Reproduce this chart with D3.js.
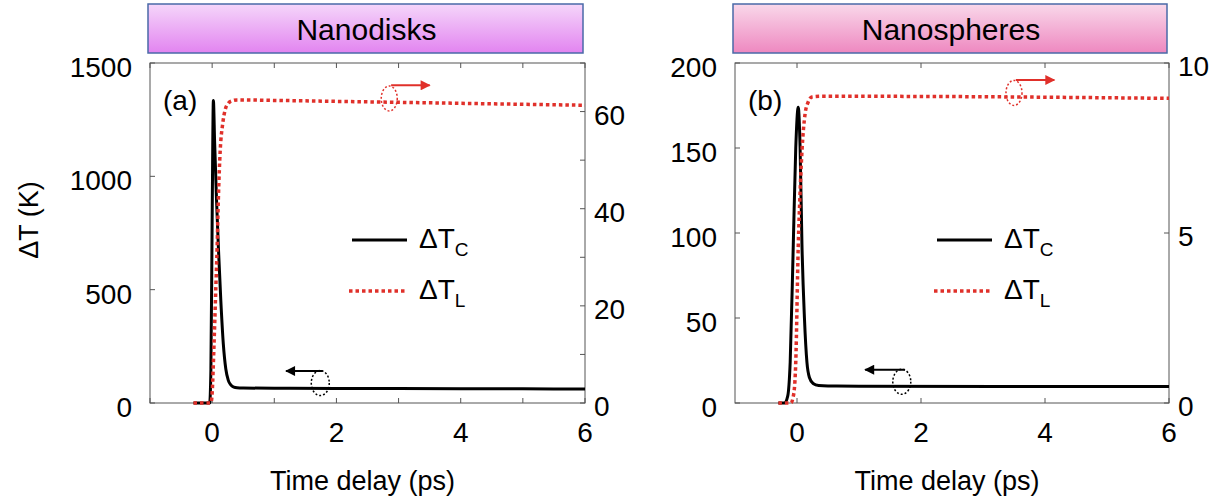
<!DOCTYPE html>
<html>
<head>
<meta charset="utf-8">
<script src="https://cdn.jsdelivr.net/npm/d3@7"></script>
<style>
  body { margin: 0; background: #fff; }
  text { font-family: "Liberation Sans", Arial, sans-serif; fill: #000; }
</style>
</head>
<body>
<script>
// values
const timeA = [-0.3, -0.04, -0.02, 0, 0.02, 0.04, 0.07, 0.1, 0.14, 0.18, 0.22, 0.26, 0.3, 0.35, 0.4, 0.5, 1, 2, 3, 4, 5, 6];
const tcA   = [0, 0, 150, 800, 1335, 1150, 900, 690, 450, 260, 150, 100, 80, 70, 67, 66, 65, 64, 63.5, 63, 62.5, 62];
const timeLA = [-0.3, -0.02, 0, 0.03, 0.06, 0.08, 0.1, 0.13, 0.17, 0.21, 0.26, 0.32, 0.4, 1, 2, 3, 4, 5, 6];
const tlA    = [0, 0, 2, 12, 24, 32, 42, 52, 57.5, 60.4, 61.7, 62.2, 62.4, 62.3, 62.1, 61.9, 61.7, 61.5, 61.3];

const timeB = [-0.3, -0.2, -0.15, -0.11, -0.06, -0.02, 0.02, 0.05, 0.08, 0.12, 0.16, 0.2, 0.26, 0.35, 0.5, 1, 6];
const tcB   = [0, 0, 4, 24, 93, 150, 174, 150, 93, 50, 24, 15, 11.5, 10.3, 10, 9.9, 9.7];
const timeLB = [-0.3, -0.1, -0.05, -0.02, 0.02, 0.05, 0.08, 0.13, 0.18, 0.24, 0.4, 1, 6];
const tlB    = [0, 0, 0.3, 1.2, 4.6, 6.2, 7.4, 8.5, 8.85, 9.0, 9.02, 9.02, 8.96];

const titles = ["Nanodisks", "Nanospheres"];
const panelTags = ["(a)", "(b)"];
const leftTicksA = [0, 500, 1000, 1500];
const rightTicksA = [0, 10, 20, 30, 40, 50, 60, 70];
const rightLabelsA = [0, 20, 40, 60];
const leftTicksB = [0, 50, 100, 150, 200];
const rightTicksB = [0, 5, 10];
const xTicksA = [-1, 0, 1, 2, 3, 4, 5, 6];
const xTicksB = [0, 2, 4, 6];
const xLabels = [0, 2, 4, 6];

const width = 1231, height = 500;
const red = "#e0302a";

const svg = d3.select("body").append("svg")
    .attr("width", width)
    .attr("height", height);

const defs = svg.append("defs");
[["gradA", "#f5d6fa", "#e284f0"], ["gradB", "#f9d8ea", "#ee88c0"]].forEach(([id, c0, c1]) => {
  const g = defs.append("linearGradient").attr("id", id)
      .attr("x1", 0).attr("y1", 0).attr("x2", 0).attr("y2", 1);
  g.append("stop").attr("offset", "0%").attr("stop-color", c0);
  g.append("stop").attr("offset", "100%").attr("stop-color", c1);
});
[["arrowRed", red], ["arrowBlack", "#000"]].forEach(([id, c]) => {
  defs.append("marker").attr("id", id)
      .attr("viewBox", "0 0 10 10").attr("refX", 9).attr("refY", 5)
      .attr("markerWidth", 11).attr("markerHeight", 10)
      .attr("markerUnits", "userSpaceOnUse")
      .attr("orient", "auto")
    .append("path").attr("d", "M0,0L10,5L0,10Z").attr("fill", c);
});

const panels = [
  {
    left: 150, right: 585, grad: "gradA",
    title: titles[0], tag: panelTags[0],
    yl: [0, 1500], yr: [0, 70],
    lTicks: leftTicksA, rTicks: rightTicksA, rLabels: rightLabelsA, xTicks: xTicksA,
    tc: timeA.map((t, i) => [t, tcA[i]]),
    tl: timeLA.map((t, i) => [t, tlA[i]]),
    redNote: {cx: 2.85, cy: 62.7, ax0: 2.88, ax1: 3.5, ay: 65.4},
    blackNote: {cx: 1.74, cy: 88, ax0: 1.78, ax1: 1.19, ay: 141},
    ylabel: true
  },
  {
    left: 735, right: 1169, grad: "gradB",
    title: titles[1], tag: panelTags[1],
    yl: [0, 200], yr: [0, 10],
    lTicks: leftTicksB, rTicks: rightTicksB, rLabels: rightTicksB, xTicks: xTicksB,
    tc: timeB.map((t, i) => [t, tcB[i]]),
    tl: timeLB.map((t, i) => [t, tlB[i]]),
    redNote: {cx: 3.5, cy: 9.12, ax0: 3.53, ax1: 4.15, ay: 9.5},
    blackNote: {cx: 1.69, cy: 12.5, ax0: 1.74, ax1: 1.1, ay: 19.6},
    ylabel: false
  }
];

const plotTop = 63, plotBottom = 403;

panels.forEach(p => {
  const x = d3.scaleLinear().domain([-1, 6]).range([p.left, p.right]);
  const yL = d3.scaleLinear().domain(p.yl).range([plotBottom, plotTop]);
  const yR = d3.scaleLinear().domain(p.yr).range([plotBottom, plotTop]);
  const g = svg.append("g");

  // title box
  g.append("rect")
      .attr("x", p.left - 2).attr("y", 4)
      .attr("width", p.right - p.left).attr("height", 49)
      .attr("fill", `url(#${p.grad})`)
      .attr("stroke", "#4a6aa8").attr("stroke-width", 1.5);
  g.append("text")
      .attr("x", (p.left + p.right) / 2 - 1).attr("y", 40)
      .attr("text-anchor", "middle")
      .attr("font-size", 30)
      .text(p.title);

  // frame
  g.append("rect")
      .attr("x", p.left).attr("y", plotTop)
      .attr("width", p.right - p.left).attr("height", plotBottom - plotTop)
      .attr("fill", "none").attr("stroke", "#555").attr("stroke-width", 1);

  // x ticks bottom + top
  p.xTicks.forEach(t => {
    g.append("line").attr("x1", x(t)).attr("x2", x(t))
        .attr("y1", plotBottom).attr("y2", plotBottom - 5).attr("stroke", "#555");
    g.append("line").attr("x1", x(t)).attr("x2", x(t))
        .attr("y1", plotTop).attr("y2", plotTop + 5).attr("stroke", "#555");
  });
  xLabels.forEach(t => {
    g.append("text").attr("x", x(t)).attr("y", plotBottom + 39)
        .attr("text-anchor", "middle").attr("font-size", 28).text(t);
  });

  // left ticks
  p.lTicks.forEach(v => {
    g.append("line").attr("x1", p.left).attr("x2", p.left + 5)
        .attr("y1", yL(v)).attr("y2", yL(v)).attr("stroke", "#555");
    g.append("text").attr("x", p.left - 18).attr("y", yL(v) + 14)
        .attr("text-anchor", "end").attr("font-size", 28).text(v);
  });
  // right ticks
  p.rTicks.forEach(v => {
    g.append("line").attr("x1", p.right).attr("x2", p.right - 5)
        .attr("y1", yR(v)).attr("y2", yR(v)).attr("stroke", "#555");
  });
  p.rLabels.forEach(v => {
    g.append("text").attr("x", p.right + 9).attr("y", yR(v) + 13)
        .attr("text-anchor", "start").attr("font-size", 28).text(v);
  });

  // x label
  g.append("text")
      .attr("x", (p.left + p.right) / 2 - 5).attr("y", 490)
      .attr("text-anchor", "middle").attr("font-size", 27)
      .text("Time delay (ps)");

  if (p.ylabel) {
    g.append("text")
        .attr("transform", `translate(38,${(plotTop + plotBottom) / 2 - 13}) rotate(-90)`)
        .attr("text-anchor", "middle").attr("font-size", 27)
        .text("ΔT (K)");
  }

  // curves
  const lineL = d3.line().x(d => x(d[0])).y(d => yL(d[1])).curve(d3.curveMonotoneX);
  const lineR = d3.line().x(d => x(d[0])).y(d => yR(d[1])).curve(d3.curveMonotoneX);
  g.append("path").datum(p.tc).attr("d", lineL)
      .attr("fill", "none").attr("stroke", "#000").attr("stroke-width", 3)
      .attr("stroke-linejoin", "round");
  g.append("path").datum(p.tl).attr("d", lineR)
      .attr("fill", "none").attr("stroke", red).attr("stroke-width", 3.5)
      .attr("stroke-dasharray", "3.5,3");

  // panel tag
  g.append("text").attr("x", p.left + 13).attr("y", 110)
      .attr("font-size", 28).text(p.tag);

  // axis pointer notes
  const rn = p.redNote, bn = p.blackNote;
  g.append("ellipse").attr("cx", x(rn.cx)).attr("cy", yR(rn.cy))
      .attr("rx", 8).attr("ry", 12.5)
      .attr("fill", "none").attr("stroke", red).attr("stroke-width", 1.5)
      .attr("stroke-dasharray", "2,2");
  g.append("line").attr("x1", x(rn.ax0)).attr("x2", x(rn.ax1))
      .attr("y1", yR(rn.ay)).attr("y2", yR(rn.ay))
      .attr("stroke", red).attr("stroke-width", 2)
      .attr("marker-end", "url(#arrowRed)");
  g.append("ellipse").attr("cx", x(bn.cx)).attr("cy", yL(bn.cy))
      .attr("rx", 9).attr("ry", 12.5)
      .attr("fill", "none").attr("stroke", "#000").attr("stroke-width", 1.5)
      .attr("stroke-dasharray", "2,2");
  g.append("line").attr("x1", x(bn.ax0)).attr("x2", x(bn.ax1))
      .attr("y1", yL(bn.ay)).attr("y2", yL(bn.ay))
      .attr("stroke", "#000").attr("stroke-width", 2)
      .attr("marker-end", "url(#arrowBlack)");

  // legend
  const lx = p.left + 202;
  g.append("line").attr("x1", lx).attr("x2", lx + 55)
      .attr("y1", 240).attr("y2", 240)
      .attr("stroke", "#000").attr("stroke-width", 3);
  g.append("line").attr("x1", lx - 3).attr("x2", lx + 53)
      .attr("y1", 291).attr("y2", 291)
      .attr("stroke", red).attr("stroke-width", 3.5).attr("stroke-dasharray", "3.5,3");
  [["C", 248], ["L", 299]].forEach(([sub, yb]) => {
    const t = g.append("text").attr("x", lx + 67).attr("y", yb).attr("font-size", 28);
    t.append("tspan").text("ΔT");
    t.append("tspan").attr("font-size", 19).attr("dy", 8).text(sub);
  });
});
</script>
</body>
</html>
